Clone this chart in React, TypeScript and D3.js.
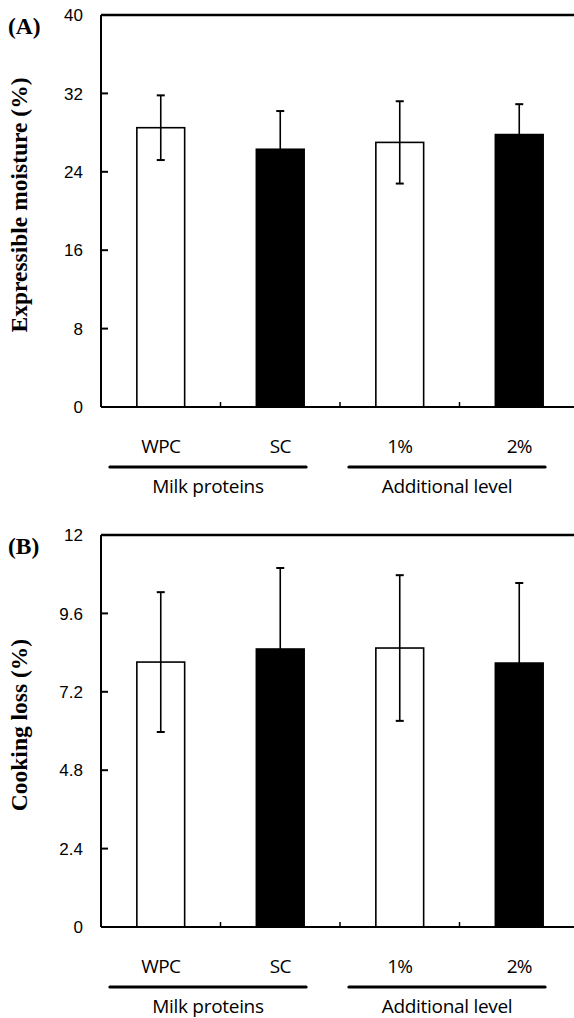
import React from "react";
import * as d3 from "d3";

const categories = ["WPC", "SC", "1%", "2%"];
const fills = ["white", "black", "white", "black"];
const groups = [
  { label: "Milk proteins", members: ["WPC", "SC"] },
  { label: "Additional level", members: ["1%", "2%"] },
];

const moistureMeans = [28.5, 26.3, 27.0, 27.8];
const moistureSD = [3.3, 3.9, 4.2, 3.1];
const moistureTicks = [0, 8, 16, 24, 32, 40];

const cookingMeans = [8.11, 8.51, 8.54, 8.08];
const cookingSD = [2.14, 2.48, 2.23, 2.45];
const cookingTicks = [0, 2.4, 4.8, 7.2, 9.6, 12];

const W = 574;
const H = 1018;

type PanelProps = {
  top: number;
  bottom: number;
  max: number;
  ticks: number[];
  means: number[];
  sds: number[];
  title: string;
  tag: string;
  tickFmt: (v: number) => string;
};

function Panel({ top, bottom, max, ticks, means, sds, title, tag, tickFmt }: PanelProps) {
  const left = 101;
  const right = 579;
  const x = d3.scaleBand<string>().domain(categories).range([left, right]).paddingInner(0.6).paddingOuter(0.3);
  const y = d3.scaleLinear().domain([0, max]).range([bottom, top]);
  const bw = x.bandwidth();
  const step = x.step();
  const capW = 4;
  const serif = "'Liberation Serif', 'Times New Roman', serif";
  const sans = "'Liberation Sans', Arial, sans-serif";
  const catFont = "'Open Sans', 'Noto Sans', sans-serif";
  const boundaries = categories.slice(0, -1).map((c) => (x(c) as number) + bw + (step - bw) / 2);
  return (
    <g>
      {categories.map((c, i) => (
        <rect
          key={c}
          x={x(c)}
          y={y(means[i])}
          width={bw}
          height={bottom - y(means[i])}
          fill={fills[i]}
          stroke="black"
          strokeWidth={1.6}
        />
      ))}
      {categories.map((c, i) => {
        const cx = (x(c) as number) + bw / 2;
        const y1 = y(means[i] + sds[i]);
        const y0 = y(means[i] - sds[i]);
        return (
          <g key={"e" + c} stroke="black" strokeWidth={1.6}>
            <line x1={cx} x2={cx} y1={y1} y2={y0} />
            <line x1={cx - capW} x2={cx + capW} y1={y1} y2={y1} strokeWidth={2} />
            <line x1={cx - capW} x2={cx + capW} y1={y0} y2={y0} strokeWidth={2} />
          </g>
        );
      })}
      <line x1={left} x2={W} y1={top} y2={top} stroke="black" strokeWidth={2.5} />
      <line x1={left} x2={left} y1={top} y2={bottom} stroke="black" strokeWidth={2} />
      <line x1={left} x2={W} y1={bottom} y2={bottom} stroke="black" strokeWidth={2} />
      {ticks.map((t) => (
        <g key={t}>
          {t > 0 && t < max && (
            <line x1={left} x2={left + 7} y1={y(t)} y2={y(t)} stroke="black" strokeWidth={2} />
          )}
          <text x={83} y={y(t)} dy="0.36em" textAnchor="end" fontFamily={sans} fontSize={17}>
            {tickFmt(t)}
          </text>
        </g>
      ))}
      {boundaries.map((b, i) => (
        <line key={i} x1={b} x2={b} y1={bottom} y2={bottom - 5} stroke="black" strokeWidth={1.5} />
      ))}
      {categories.map((c) => (
        <text
          key={"l" + c}
          x={(x(c) as number) + bw / 2}
          y={bottom + 46}
          textAnchor="middle"
          fontFamily={catFont}
          fontSize={19}
          fontWeight={500}
          letterSpacing={-0.7}
        >
          {c}
        </text>
      ))}
      {groups.map((g) => {
        const x0 = (x(g.members[0]) as number) - 27;
        const x1 = (x(g.members[g.members.length - 1]) as number) + bw + 2;
        const cx = (x0 + x1) / 2;
        return (
          <g key={g.label}>
            <line x1={x0} x2={x1} y1={bottom + 60} y2={bottom + 60} stroke="black" strokeWidth={3} strokeLinecap="round" />
            <text x={cx} y={bottom + 86} textAnchor="middle" fontFamily={catFont} fontSize={19} fontWeight={500} letterSpacing={-0.3}>
              {g.label}
            </text>
          </g>
        );
      })}
      <text
        transform={`translate(27, ${(top + bottom) / 2 - 6}) rotate(-90)`}
        textAnchor="middle"
        fontFamily={serif}
        fontWeight="bold"
        fontSize={23.5}
      >
        {title}
      </text>
      <text x={8} y={top + 19} fontFamily={serif} fontWeight="bold" fontSize={23.5}>
        {tag}
      </text>
    </g>
  );
}

export default function App() {
  return (
    <svg width={W} height={H} style={{ position: "absolute", left: 0, top: 0, background: "white" }}>
      <rect width={W} height={H} fill="white" />
      <Panel
        top={15}
        bottom={407}
        max={40}
        ticks={moistureTicks}
        means={moistureMeans}
        sds={moistureSD}
        title="Expressible moisture (%)"
        tag="(A)"
        tickFmt={(v) => String(v)}
      />
      <Panel
        top={535}
        bottom={927}
        max={12}
        ticks={cookingTicks}
        means={cookingMeans}
        sds={cookingSD}
        title="Cooking loss (%)"
        tag="(B)"
        tickFmt={(v) => String(v)}
      />
    </svg>
  );
}
